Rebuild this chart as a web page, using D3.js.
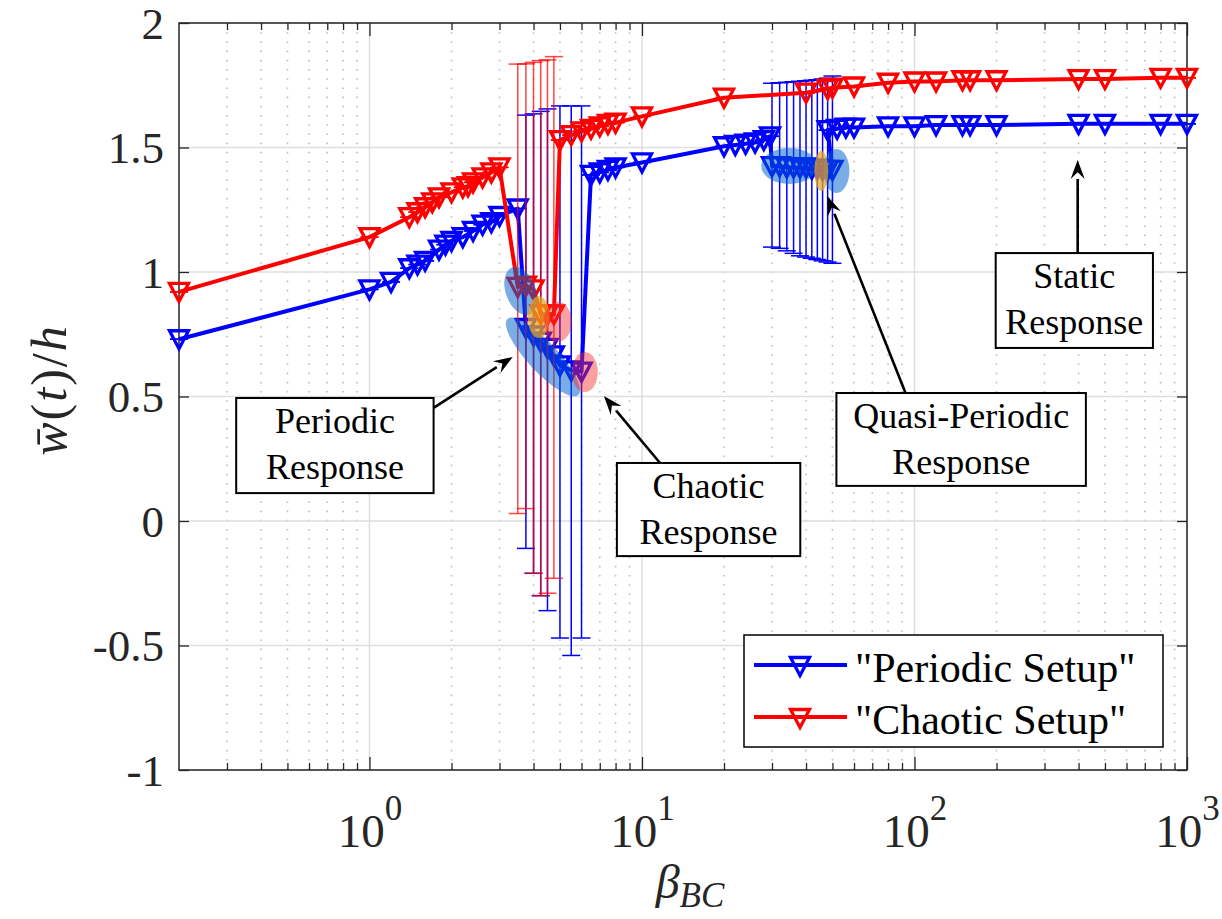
<!DOCTYPE html>
<html>
<head>
<meta charset="utf-8">
<script src="https://cdn.jsdelivr.net/npm/d3@7"></script>
<style>
  body { margin: 0; background: #fff; }
  svg { display: block; }
</style>
</head>
<body>
<svg id="chart" width="1222" height="919"></svg>
<script>
// ---------- data ----------
// "Periodic Setup": mean deflection vs beta_BC; low/high = response envelope (null = steady)
const periodicBeta = [0.2, 1, 1.2, 1.4, 1.5, 1.6, 1.8, 1.9, 2.0, 2.2, 2.4, 2.6, 2.8, 3.0,
  3.5, 3.75, 4.0, 4.25, 4.5, 4.75, 5.0, 5.5, 6.0,
  6.5, 7.0, 7.5, 8.0, 10, 20, 22, 24, 26, 28, 29.5,
  30, 32, 34, 36, 38, 40, 42, 44, 46, 48, 50,
  48, 52, 56, 60, 80, 100, 120, 150, 160, 200, 400, 500, 800, 1000];
const periodicMean = [0.73, 0.93, 0.96, 1.015, 1.03, 1.045, 1.09, 1.11, 1.125, 1.14, 1.165, 1.19, 1.20, 1.225,
  1.255, 0.775, 0.745, 0.72, 0.695, 0.665, 0.625, 0.605, 0.60,
  1.39, 1.40, 1.41, 1.42, 1.44, 1.505, 1.51, 1.515, 1.52, 1.53, 1.545,
  1.425, 1.425, 1.42, 1.42, 1.42, 1.42, 1.415, 1.415, 1.41, 1.41, 1.41,
  1.57, 1.575, 1.58, 1.58, 1.585, 1.585, 1.59, 1.59, 1.59, 1.59, 1.595, 1.595, 1.595, 1.595];
const periodicLow = [null, null, null, null, null, null, null, null, null, null, null, null, null, null,
  null, -0.11, -0.21, -0.30, -0.36, null, -0.47, -0.54, -0.47,
  null, null, null, null, null, null, null, null, null, null, null,
  1.10, 1.095, 1.085, 1.075, 1.065, 1.06, 1.055, 1.05, 1.045, 1.04, 1.035,
  null, null, null, null, null, null, null, null, null, null, null, null, null, null];
const periodicHigh = [null, null, null, null, null, null, null, null, null, null, null, null, null, null,
  null, 1.63, 1.635, 1.645, 1.655, null, 1.667, 1.667, 1.667,
  null, null, null, null, null, null, null, null, null, null, null,
  1.758, 1.76, 1.762, 1.764, 1.766, 1.768, 1.77, 1.772, 1.775, 1.778, 1.787,
  null, null, null, null, null, null, null, null, null, null, null, null, null, null];

// "Chaotic Setup"
const chaoticBeta = [0.2, 1, 1.4, 1.5, 1.6, 1.7, 1.8, 2.0, 2.2, 2.3, 2.4, 2.6, 2.8, 3.0,
  3.5, 3.75, 4.0, 4.25, 4.5, 4.75,
  5.0, 5.5, 6.0, 6.5, 7.0, 7.5, 8.0, 10, 20, 40, 48, 50, 60,
  80, 100, 120, 150, 160, 200, 400, 500, 800, 1000];
const chaoticMean = [0.92, 1.14, 1.22, 1.24, 1.26, 1.28, 1.30, 1.32, 1.34, 1.345, 1.36, 1.38, 1.40, 1.42,
  0.94, 0.945, 0.93, 0.83, 0.83, 0.83,
  1.53, 1.55, 1.565, 1.575, 1.585, 1.595, 1.60, 1.625, 1.70, 1.72, 1.735, 1.74, 1.745,
  1.76, 1.765, 1.765, 1.77, 1.77, 1.77, 1.775, 1.775, 1.78, 1.78];
const chaoticLow = [null, null, null, null, null, null, null, null, null, null, null, null, null, null,
  0.03, 0.05, -0.21, -0.30, -0.29, -0.23,
  null, null, null, null, null, null, null, null, null, null, null, null, null,
  null, null, null, null, null, null, null, null, null, null];
const chaoticHigh = [null, null, null, null, null, null, null, null, null, null, null, null, null, null,
  1.835, 1.836, 1.842, 1.849, 1.852, 1.865,
  null, null, null, null, null, null, null, null, null, null, null, null, null,
  null, null, null, null, null, null, null, null, null, null];

// axes
const betaRange = [0.2, 1000];
const wRange = [-1, 2];
const betaMajorTicks = [1, 10, 100, 1000];
const betaTickExponents = ["0", "1", "2", "3"];
const wTicks = [-1, -0.5, 0, 0.5, 1, 1.5, 2];
const wTickLabels = ["-1", "-0.5", "0", "0.5", "1", "1.5", "2"];
const seriesNames = ["\"Periodic Setup\"", "\"Chaotic Setup\""];

// ---------- layout ----------
const plot = { left: 179, right: 1187, top: 23, bottom: 770 };
const BLUE = "#0000ff", RED = "#ff0000", AXIS = "#262626";
const SERIF = "'Liberation Serif', 'Times New Roman', serif";

const svg = d3.select("#chart");
const x = d3.scaleLog().domain(betaRange).range([plot.left, plot.right]);
const y = d3.scaleLinear().domain(wRange).range([plot.bottom, plot.top]);

// minor tick values of the log axis (2..9 within each decade)
const betaMinorTicks = [];
for (let e = -1; e <= 2; e++) {
  for (let m = 2; m <= 9; m++) {
    const v = m * Math.pow(10, e);
    if (v > betaRange[0] && v < betaRange[1]) betaMinorTicks.push(v);
  }
}

// ---------- grid ----------
const grid = svg.append("g");
grid.selectAll("line.minor").data(betaMinorTicks).enter().append("line")
  .attr("x1", d => x(d)).attr("x2", d => x(d))
  .attr("y1", plot.top).attr("y2", plot.bottom)
  .attr("stroke", "#bdbdbd").attr("stroke-width", 1.6)
  .attr("stroke-dasharray", "1.6,7.6");
grid.selectAll("line.majx").data(betaMajorTicks).enter().append("line")
  .attr("x1", d => x(d)).attr("x2", d => x(d))
  .attr("y1", plot.top).attr("y2", plot.bottom)
  .attr("stroke", "#dedede").attr("stroke-width", 1.5);
grid.selectAll("line.majy").data(wTicks).enter().append("line")
  .attr("x1", plot.left).attr("x2", plot.right)
  .attr("y1", d => y(d)).attr("y2", d => y(d))
  .attr("stroke", "#dedede").attr("stroke-width", 1.5);

// ---------- axes ----------
function styleAxis(g) {
  g.select(".domain").remove();
  g.selectAll(".tick line").attr("stroke", AXIS).attr("stroke-width", 1.3);
}
const fmtW = d => wTickLabels[wTicks.indexOf(d)];

svg.append("g").attr("transform", `translate(${plot.left},0)`)
  .call(d3.axisLeft(y).tickValues(wTicks).tickSizeInner(-10).tickSizeOuter(0).tickPadding(15).tickFormat(fmtW))
  .call(styleAxis)
  .call(g => g.selectAll(".tick text").attr("font-family", SERIF).attr("font-size", 45)
    .attr("fill", AXIS).attr("dy", "0.34em"));
svg.append("g").attr("transform", `translate(${plot.right},0)`)
  .call(d3.axisRight(y).tickValues(wTicks).tickSizeInner(-10).tickSizeOuter(0).tickFormat(""))
  .call(styleAxis);

const bottomAxis = svg.append("g").attr("transform", `translate(0,${plot.bottom})`)
  .call(d3.axisBottom(x).tickValues(betaMajorTicks).tickSizeInner(-13).tickSizeOuter(0)
    .tickFormat(() => "10"))
  .call(styleAxis);
bottomAxis.selectAll(".tick text")
  .attr("font-family", SERIF).attr("font-size", 47).attr("fill", AXIS)
  .attr("y", 77).attr("dy", null)
  .each(function(d) {
    d3.select(this).append("tspan").attr("dy", -27).attr("font-size", 35)
      .text(betaTickExponents[betaMajorTicks.indexOf(d)]);
  });
svg.append("g").attr("transform", `translate(0,${plot.bottom})`)
  .call(d3.axisBottom(x).tickValues(betaMinorTicks).tickSizeInner(-7).tickSizeOuter(0).tickFormat(""))
  .call(styleAxis);
svg.append("g").attr("transform", `translate(0,${plot.top})`)
  .call(d3.axisTop(x).tickValues(betaMajorTicks).tickSizeInner(-13).tickSizeOuter(0).tickFormat(""))
  .call(styleAxis);
svg.append("g").attr("transform", `translate(0,${plot.top})`)
  .call(d3.axisTop(x).tickValues(betaMinorTicks).tickSizeInner(-7).tickSizeOuter(0).tickFormat(""))
  .call(styleAxis);

// frame
svg.append("rect")
  .attr("x", plot.left).attr("y", plot.top)
  .attr("width", plot.right - plot.left).attr("height", plot.bottom - plot.top)
  .attr("fill", "none").attr("stroke", AXIS).attr("stroke-width", 1.5);

// axis titles
svg.append("text")
  .attr("x", 690).attr("y", 898)
  .attr("text-anchor", "middle")
  .attr("font-family", SERIF).attr("font-size", 48).attr("font-style", "italic").attr("fill", AXIS)
  .call(t => {
    t.append("tspan").text("β");
    t.append("tspan").attr("dy", 9).attr("font-size", 35).text("BC");
  });

svg.append("text")
  .attr("transform", "translate(66,390) rotate(-90)")
  .attr("text-anchor", "middle")
  .attr("font-family", SERIF).attr("font-size", 50).attr("fill", AXIS)
  .attr("letter-spacing", 2)
  .call(t => {
    t.append("tspan").attr("font-style", "italic").text("w\u0304");
    t.append("tspan").text("(");
    t.append("tspan").attr("font-style", "italic").text("t");
    t.append("tspan").text(")/");
    t.append("tspan").attr("font-style", "italic").text("h");
  });

// ---------- series ----------
const triangle = "M-9.5,-8.5L9.5,-8.5L0,9.5Z";
const capHalf = 9;

function drawSeries(betas, means, lows, highs, color, barOpacity) {
  const pts = betas.map((b, i) => ({
    b, m: means[i],
    lo: lows[i] == null ? means[i] : lows[i],
    hi: highs[i] == null ? means[i] : highs[i]
  }));
  const g = svg.append("g");
  // envelope bars
  const bars = g.append("g").attr("stroke", color).attr("stroke-width", 1.5).attr("opacity", barOpacity);
  pts.forEach(p => {
    if (p.hi !== p.lo) {
      bars.append("line").attr("x1", x(p.b)).attr("x2", x(p.b)).attr("y1", y(p.lo)).attr("y2", y(p.hi));
    }
  });
  // mean line
  g.append("path").datum(pts)
    .attr("d", d3.line().x(d => x(d.b)).y(d => y(d.m)))
    .attr("fill", "none").attr("stroke", color).attr("stroke-width", 4)
    .attr("stroke-linejoin", "round");
  // caps
  const caps = g.append("g").attr("stroke", color).attr("stroke-width", 1.5);
  pts.forEach(p => {
    const op = p.hi !== p.lo ? barOpacity : 1;
    [p.lo, p.hi].forEach(v => {
      caps.append("line").attr("opacity", op)
        .attr("x1", x(p.b) - capHalf).attr("x2", x(p.b) + capHalf)
        .attr("y1", y(v)).attr("y2", y(v));
    });
  });
  // markers
  g.append("g").selectAll("path").data(pts).enter().append("path")
    .attr("d", triangle)
    .attr("transform", d => `translate(${x(d.b)},${y(d.m)})`)
    .attr("fill", "none").attr("stroke", color).attr("stroke-width", 3.3)
    .attr("stroke-linejoin", "miter");
}

drawSeries(periodicBeta, periodicMean, periodicLow, periodicHigh, BLUE, 1);
drawSeries(chaoticBeta, chaoticMean, chaoticLow, chaoticHigh, RED, 0.72);

// ---------- highlight ellipses ----------
const tones = {
  blue: "rgba(0,95,205,0.52)",
  orange: "rgba(232,168,30,0.72)",
  pink: "rgba(245,45,45,0.45)"
};
const highlights = [
  { beta: 3.59, w: 0.924, rx: 15, ry: 25, rot: -20, tone: "blue" },
  { beta: 4.33, w: 0.659, rx: 52, ry: 15, rot: 47, tone: "blue" },
  { beta: 34.7, w: 1.426, rx: 28, ry: 18, rot: 0, tone: "blue" },
  { beta: 51.7, w: 1.406, rx: 13, ry: 22, rot: 0, tone: "blue" },
  { beta: 4.18, w: 0.819, rx: 11, ry: 21, rot: 0, tone: "orange" },
  { beta: 45.5, w: 1.406, rx: 7, ry: 20, rot: 0, tone: "orange" },
  { beta: 4.91, w: 0.80, rx: 14, ry: 20, rot: 0, tone: "pink" },
  { beta: 6.17, w: 0.598, rx: 13, ry: 20, rot: 0, tone: "pink" }
];
svg.append("g").selectAll("ellipse").data(highlights).enter().append("ellipse")
  .attr("transform", d => `translate(${x(d.beta)},${y(d.w)}) rotate(${d.rot})`)
  .attr("rx", d => d.rx).attr("ry", d => d.ry)
  .attr("fill", d => tones[d.tone]);

// ---------- callouts ----------
const callouts = [
  { lines: ["Periodic", "Response"], box: [0.3243, 1.719, 0.494, 0.112],
    tail: [1.719, 0.454], tip: [3.355, 0.659] },
  { lines: ["Chaotic", "Response"], box: [8.09, 38.1, 0.233, -0.141],
    tail: [11.65, 0.233], tip: [7.25, 0.502] },
  { lines: ["Quasi-Periodic", "Response"], box: [51.7, 425.5, 0.514, 0.141],
    tail: [92.7, 0.514], tip: [47.9, 1.305] },
  { lines: ["Static", "Response"], box: [198.6, 749.9, 1.076, 0.695],
    tail: [397, 1.076], tip: [397, 1.45] }
];
const calloutG = svg.append("g");
callouts.forEach(c => {
  const x0 = x(c.box[0]), x1 = x(c.box[1]), y0 = y(c.box[2]), y1 = y(c.box[3]);
  const tx = x(c.tail[0]), ty = y(c.tail[1]), hx = x(c.tip[0]), hy = y(c.tip[1]);
  const ang = Math.atan2(hy - ty, hx - tx);
  const headLen = 19, headW = 7;
  const bx = hx - headLen * Math.cos(ang), by = hy - headLen * Math.sin(ang);
  calloutG.append("line")
    .attr("x1", tx).attr("y1", ty).attr("x2", bx).attr("y2", by)
    .attr("stroke", "#000").attr("stroke-width", 2.6);
  calloutG.append("path")
    .attr("d", `M${hx},${hy}L${bx - headW * Math.sin(ang)},${by + headW * Math.cos(ang)}` +
               `L${bx + 0.35 * headLen * Math.cos(ang)},${by + 0.35 * headLen * Math.sin(ang)}` +
               `L${bx + headW * Math.sin(ang)},${by - headW * Math.cos(ang)}Z`)
    .attr("fill", "#000");
  calloutG.append("rect")
    .attr("x", x0).attr("y", y0).attr("width", x1 - x0).attr("height", y1 - y0)
    .attr("fill", "#fff").attr("stroke", "#000").attr("stroke-width", 2);
  c.lines.forEach((s, i) => {
    calloutG.append("text")
      .attr("x", (x0 + x1) / 2).attr("y", y0 + 35 + i * 46)
      .attr("text-anchor", "middle")
      .attr("font-family", SERIF).attr("font-size", 36).attr("fill", "#000")
      .text(s);
  });
});

// ---------- legend ----------
const legend = svg.append("g");
legend.append("rect")
  .attr("x", 744).attr("y", 635).attr("width", 419).attr("height", 112)
  .attr("fill", "#fff").attr("stroke", "#000").attr("stroke-width", 1.5);
[BLUE, RED].forEach((col, i) => {
  const ly = 665 + i * 52;
  legend.append("line").attr("x1", 754).attr("x2", 847).attr("y1", ly).attr("y2", ly)
    .attr("stroke", col).attr("stroke-width", 4);
  legend.append("path").attr("d", triangle).attr("transform", `translate(800,${ly + 1})`)
    .attr("fill", "none").attr("stroke", col).attr("stroke-width", 3.3);
  legend.append("text").attr("x", 855).attr("y", ly + 17)
    .attr("font-family", SERIF).attr("font-size", 42).attr("fill", "#000")
    .text(seriesNames[i]);
});
</script>
</body>
</html>
